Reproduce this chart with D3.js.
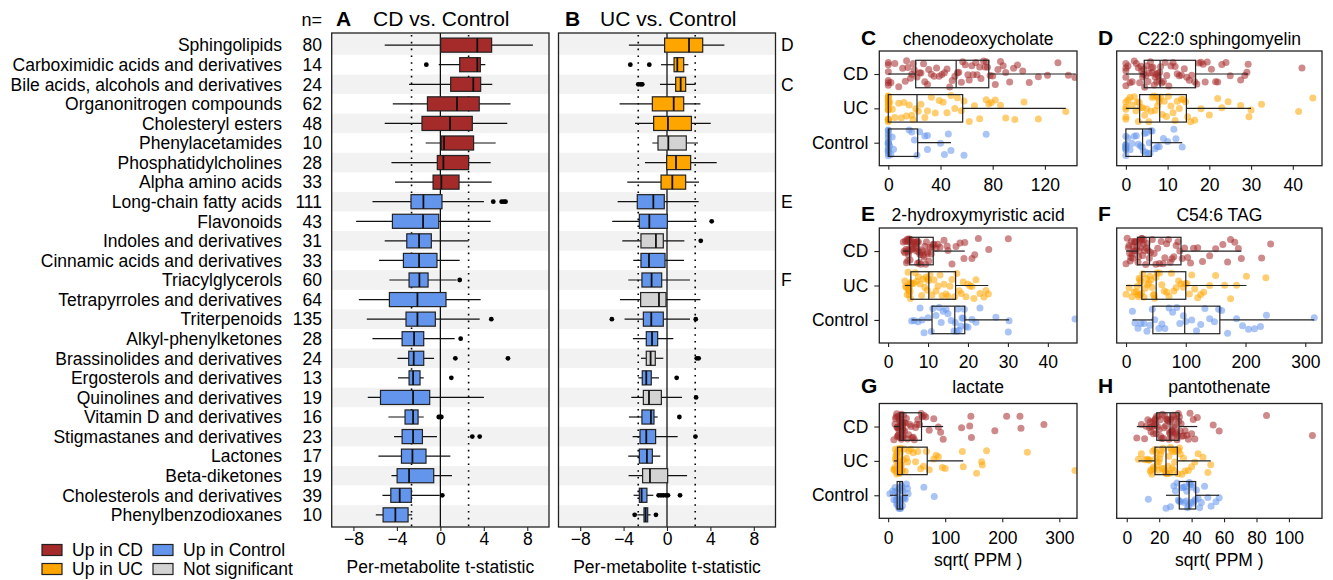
<!DOCTYPE html>
<html><head><meta charset="utf-8">
<script src="https://d3js.org/d3.v7.min.js"></script>
<style>html,body{margin:0;padding:0;background:#fff;}svg text{font-family:'Liberation Sans',Arial,Helvetica,sans-serif;fill:#000;}</style>
</head><body><svg id="chart"></svg>
<script>
// ================= DATA =================
const categories = ["Sphingolipids","Carboximidic acids and derivatives","Bile acids, alcohols and derivatives","Organonitrogen compounds","Cholesteryl esters","Phenylacetamides","Phosphatidylcholines","Alpha amino acids","Long-chain fatty acids","Flavonoids","Indoles and derivatives","Cinnamic acids and derivatives","Triacylglycerols","Tetrapyrroles and derivatives","Triterpenoids","Alkyl-phenylketones","Brassinolides and derivatives","Ergosterols and derivatives","Quinolines and derivatives","Vitamin D and derivatives","Stigmastanes and derivatives","Lactones","Beta-diketones","Cholesterols and derivatives","Phenylbenzodioxanes"];
const nCounts = [80,14,24,62,48,10,28,33,111,43,31,33,60,64,135,28,24,13,19,16,23,17,19,39,10];
const tTicks = [-8,-4,0,4,8];
const sigThresholds = [-2.65, 2.6];

// Panel A: CD vs. Control (whisker low, Q1, median, Q3, whisker high, outliers)
const aStatus = ["CD","CD","CD","CD","CD","CD","CD","CD","Control","Control","Control","Control","Control","Control","Control","Control","Control","Control","Control","Control","Control","Control","Control","Control","Control"];
const aLo  = [-5.12,-0.15,-2.88,-4.38,-5.12,-1.35,-4.5,-4.17,-6.25,-7.75,-5.12,-5.64,-4.69,-7.5,-6.77,-6.25,-3.95,-3.89,-6.68,-4.78,-4.26,-5.7,-4.5,-5.33,-5.94];
const aQ1  = [0.03,1.78,0.95,-1.19,-1.69,0.09,-0.28,-0.67,-2.7,-4.41,-3.09,-3.4,-2.88,-4.69,-3.16,-3.52,-2.91,-2.88,-5.51,-3.25,-3.52,-3.58,-3.98,-4.56,-5.27];
const aMed = [3.4,3.4,3.03,1.53,0.89,0.34,0.28,0.09,-1.56,-1.59,-1.96,-1.96,-1.93,-2.11,-2.11,-2.42,-2.45,-2.51,-2.51,-2.51,-2.51,-2.57,-2.88,-3.74,-4.14];
const aQ3  = [4.72,3.68,3.71,3.58,2.94,3.06,2.6,1.72,0.15,-0.15,-0.83,-0.31,-1.13,0.52,-0.46,-1.53,-1.53,-1.87,-0.98,-2.05,-1.65,-1.32,-0.61,-2.67,-2.97];
const aHi  = [8.52,4.14,4.78,6.46,6.16,5.09,4.63,4.72,4.01,4.63,2.6,1.78,1.5,3.71,3.62,1.32,-0.58,-1.53,4.01,-1.53,-0.31,0.92,1.07,-0.06,-2.6];
const aOut = [[],[-1.29],[],[],[],[],[],[],[4.87,5.64,5.85,6.0],[],[],[],[1.78],[],[4.69],[1.87],[1.38,6.22],[1.01],[],[-0.15,0,0.09],[2.94,3.62],[],[],[0.18],[]];

// Panel B: UC vs. Control
const bStatus = ["UC","UC","UC","UC","UC","NS","UC","UC","Control","Control","NS","Control","Control","NS","Control","Control","NS","Control","NS","Control","Control","Control","NS","Control","Control"];
const bLo  = [-3.51,-0.55,-0.65,-4.37,-2.95,-1.35,-2.03,-3.66,-4.55,-5.05,-4.12,-3.11,-3.57,-4.34,-3.91,-3.14,-2.4,-2.65,-3.29,-3.51,-3.17,-3.57,-3.54,-3.08,-2.74];
const bQ1  = [-0.22,0.65,0.8,-1.35,-1.23,-0.83,-0.03,-0.55,-2.74,-2.55,-2.4,-2.4,-2.31,-2.43,-2.18,-1.91,-1.91,-2.28,-2.18,-2.31,-2.49,-2.55,-2.25,-2.55,-2.12];
const bMed = [2.03,0.95,1.26,0.62,0.09,0.12,0.83,0.49,-1.26,-1.63,-1.02,-1.66,-1.42,-0.74,-1.45,-1.38,-1.51,-1.91,-1.66,-1.48,-1.91,-1.85,-1.57,-2.34,-1.97];
const bQ3  = [3.29,1.54,1.72,1.54,2.25,1.78,2.18,1.72,-0.25,0.03,-0.34,-0.18,-0.49,-0.09,-0.34,-0.86,-1.08,-1.45,-0.52,-1.2,-1.05,-1.35,0.06,-1.85,-1.78];
const bHi  = [5.29,1.97,2.62,3.08,4.03,2.86,4.58,2.95,2.92,2.74,1.6,1.57,2.12,3.08,2.12,0.58,-0.34,-0.74,1.38,-0.86,0.98,-0.62,1.85,-1.26,-1.51];
const bOut = [[],[-3.38,-1.63],[-2.65,-2.43,-2.28],[],[],[],[],[],[],[4.12],[3.11],[],[],[],[-5.08,2.65],[],[2.74,2.92],[0.89],[2.68],[1.14],[2.62],[],[],[-0.77,-0.55,-0.34,-0.09,0.09,1.2],[-2.98,-1.02]];
const bMarkers = [["D",0],["C",2],["E",8],["F",12]];

// Panels C-H: per-subject sqrt(PPM) values
const groups = ["CD","UC","Control"];
const chenoCD = [0,0,0,0,0,0,2,5,8,11,13,14,15,17,18,19,20,22,24,25,27,28,30,31,33,35,37,39,41,43,45,47,49,51,53,54,56,57,59,61,62,64,65,67,68,70,71,73,74,75,76,78,80,82,84,86,88,90,93,96,99,103,108,115,122,130,138,143];
const chenoUC = [0,0,0,0,0,0,0,0,0,0,0,0,0,0,0,1,3,5,8,10,12,14,16,18,19,21,23,25,28,30,33,36,39,42,45,48,51,53,56,58,62,66,70,75,77,79,82,86,90,97,104,115,136];
const chenoControl = [0,0,0,0,0,0,0,0,0,0,0,0,0,0,0,0,1,2,3,4,16,18,20,22,24,28,30,30,40,43,46,48,58,75];
const chenoBox = [[0,21,52,77,143.7],[0,0,22,57,136],[0,0,0.5,22.5,48]];
const chenoTicks = [0,40,80,120];

const smCD = [0,0,0,0,0,0.5,1,1.5,2,2.5,3,3.3,3.6,3.8,4,4.2,4.3,4.5,4.8,5,5.3,5.6,5.9,6.1,6.3,6.5,6.8,7,7.2,7.4,7.6,7.8,8,8.1,8.3,8.6,9,9.4,9.8,10.3,10.8,11.3,11.8,12.3,12.8,13.3,14,14.6,15.2,15.8,16.5,17,17.5,18,18.5,19,19.5,20.5,21.5,22,23,24,25,27.5,28.5,29,29.3,42.2];
const smUC = [0,0,0,0,0,0.5,1,1.5,2,2.4,2.8,3,3.2,3.5,4,4.5,5,5.5,6,6.3,6.6,7,7.3,7.6,7.9,8,8.3,8.7,9.2,9.7,10.2,10.8,11.3,11.8,12.3,12.8,13.3,13.8,14.3,14.8,15.5,16.5,18,20,22,23,24.5,27.5,29.5,30,32.5,41.4,44.8];
const smControl = [0,0,0,0,0,0,0,0,0,0.5,1,1.5,2,2.5,3,3.5,3.9,4.2,4.5,4.8,5,5.3,5.6,5.8,6,6.3,7,7.5,8,9,10,11.5,12,13.5];
const smBox = [[0,4.4,8.2,16.7,29.3],[0,3.3,8.1,14.5,30],[0,0,4,6.1,13.5]];
const smTicks = [0,10,20,30,40];

const hmCD = [3.8,4,4.2,4.3,4.5,4.6,4.7,4.8,4.9,5,5,5.1,5.2,5.2,5.3,5.3,5.4,5.5,5.6,5.8,6,6.1,6.3,6.5,6.7,6.8,7,7.1,7.2,7.3,7.4,7.5,7.6,7.7,7.8,8,8.2,8.4,8.6,8.8,9,9.2,9.4,9.6,9.8,10,10.2,10.5,10.8,11,11.2,11.5,12,12.5,13,14,14.8,15,16,17,18,19,19.2,21,21.7,22.6,25.2,30.1];
const hmUC = [4.2,4.4,4.6,4.8,5,5.1,5.2,5.3,5.4,5.5,5.5,5.6,5.7,6,6.4,6.8,7.2,7.6,8,8.4,8.8,9.2,9.5,9.8,10,10.1,10.5,11,11.5,12,12.5,13,13.5,14,14.5,15,15.5,16,16.7,17.2,17.8,18.3,18.8,19.5,20,20.5,21,21.5,22,23,24,24.5,25.1];
const hmControl = [5.9,6.5,7.5,8,8.5,9,10,10.8,11.2,12,12.8,13.3,13.8,14.5,15,15.8,16.5,16.8,17.2,17.5,17.8,18.2,18.5,18.8,19.1,19.5,20,21,22,23,27,30.1,30.3,46.8];
const hmBox = [[3.8,5.4,7.7,11.3,19.2],[4.2,5.7,10.2,16.9,25.1],[5.9,11,16.7,19.2,30.3]];
const hmTicks = [0,10,20,30,40];

const tagCD = [0,2,4,5,6,7,8,9,10,11,12,13,14,15,16,17,18,20,21,22,23,24,25,26,27,28,29,30,31,33,34,35,37,39,41,44,47,50,53,56,59,62,65,68,71,74,77,80,84,87,90,94,98,103,108,113,120,128,140,150,162,170,175,182,188,193,227,242];
const tagUC = [0,5,10,14,17,19,20,21,22,23,24,25,26,28,30,32,34,36,38,40,42,44,46,47,48,50,52,56,60,64,68,72,76,80,84,88,92,96,99,102,106,110,115,120,125,130,140,150,165,175,185,201.5,234];
const tagControl = [10.7,15,20,25,30,35,40,44,48,55,60,65,72,78,85,90,96,100,110,118,125,132,140,148,155,160,170,185,195,205,215,225,235,315];
const tagBox = [[0,19,39.3,92,193],[0,26.4,50.5,100,201.5],[10.7,44.9,98.2,157,315]];
const tagTicks = [0,100,200,300];

const lacCD = [10,12,13,14,15,15.5,16,16.5,17,17.5,18,18.5,19,19.5,19.8,20,20.3,21,21.5,22,22.3,22.6,23,23.3,23.6,24,24.3,24.6,25,25.3,25.6,25.9,26.1,26.3,27,28,29,30,32,34,36,38,40,42,44,46,48,50,52,55,58,60,63,66,72,80,88,92,96.5,128.7,143,145,146,187,207.7,231,232.8,273];
const lacUC = [10,11,12,12.5,13,13.5,14,14.5,15,15.3,15.6,16,16.2,17,18,19,19.5,20,20.5,21,21.5,22,22.5,23,23.5,24.3,26,28,30,32,34,36,40,44,48,52,57,62,67,72,80,84,88,95,100,130,131.6,155,163.8,165,172.5,244,327.5];
const lacControl = [3,8,10,12,13,14,15,15.5,16,16.5,17,17.5,18,18.5,19,19.5,20,21,21.5,22,22.5,23,23.5,24,25,26,27,28,30,32,34,35,62.6,80.8];
const lacBox = [[10,20.5,26.4,58.5,96.5],[10,16.4,24.6,68.5,131.6],[3,15.8,20.5,25.2,35]];
const lacTicks = [0,100,200,300];

const panCD = [6.2,9,11,12,13,14,14.5,15,15.5,16,16.5,17,17.3,17.6,17.9,18.1,18.4,19,19.5,20,20.5,21,21.5,22,22.5,23,23.5,24,24.5,25,25.5,26,26.3,26.6,26.8,27.1,27.4,27.7,28,28.3,28.6,29,29.3,29.6,30,30.3,30.6,31,31.4,31.8,32.1,32.5,33,33.5,34,35,36,37,38,39,40,41,42,43.5,53.3,57,86.2,114.5];
const panUC = [7.2,9,11,12.5,13.5,14,14.5,15,15.5,16,16.5,17,17.3,17.8,18.3,18.8,19.3,19.8,20.3,20.8,21.3,21.8,22.3,22.8,23.5,24,24.5,25,25.5,26,26.5,27,27.5,28,28.5,29,29.5,30,31,31.5,32,32.5,33,34,35,36,38,40,42,44,47,50,51.8];
const panControl = [13.3,24.2,27,29,30,31,31.8,32.3,33,34,35,35.5,36,36.5,37,37.5,38.2,38.6,39,39.5,40,40.5,41,41.5,42.3,43,44,45,46,48,50,52,55,57];
const panBox = [[6.2,18.5,26.7,32.2,43.5],[7.2,17.4,24.2,31.2,51.8],[24.2,32.4,38.4,42.5,57]];
const panTicks = [0,20,40,60,80,100];

// ================= STYLE / LAYOUT =================
const statusColors = {CD:"#A52A2A", UC:"#FFA500", Control:"#6495ED", NS:"#D3D3D3"};
const groupColors = ["#A52A2A","#FFA500","#6495ED"];
const FS = 17.5;
const W = 1333, H = 580;
const svg = d3.select("#chart").attr("width", W).attr("height", H);

const pTop = 33, pBot = 527;
const yRow = d3.scalePoint().domain(categories).range([pTop, pBot]).padding(0.62);
const step = yRow.step();

// row labels & counts
svg.append("g").selectAll("text").data(categories).join("text")
  .attr("x", 282).attr("y", d => yRow(d)).attr("dy", "0.36em")
  .attr("text-anchor", "end").attr("font-size", FS).text(d => d);
svg.append("g").selectAll("text").data(nCounts).join("text")
  .attr("x", 322).attr("y", (d, i) => yRow(categories[i])).attr("dy", "0.36em")
  .attr("text-anchor", "end").attr("font-size", FS).text(d => d);
svg.append("text").attr("x", 322).attr("y", 26).attr("text-anchor", "end").attr("font-size", FS + 0.5).text("n=");

function tPanel(x0, x1, letter, title, lo, q1, med, q3, hi, outs, status) {
  const x = d3.scaleLinear().domain([-10, 10]).range([x0, x1]);
  const g = svg.append("g");
  const last = categories.length - 1;
  g.selectAll("rect.stripe").data(categories.map((c, i) => i).filter(i => i % 2 === 0)).join("rect")
    .attr("x", x0).attr("width", x1 - x0)
    .attr("y", i => i === 0 ? pTop : yRow(categories[i]) - step / 2)
    .attr("height", i => (i === last ? pBot : yRow(categories[i]) + step / 2) - (i === 0 ? pTop : yRow(categories[i]) - step / 2))
    .attr("fill", "#F2F2F2");
  g.append("line").attr("x1", x(0)).attr("x2", x(0)).attr("y1", pTop).attr("y2", pBot)
    .attr("stroke", "#000").attr("stroke-width", 1.2);
  g.selectAll("line.thr").data(sigThresholds).join("line")
    .attr("x1", d => x(d)).attr("x2", d => x(d)).attr("y1", pTop + 2).attr("y2", pBot)
    .attr("stroke", "#000").attr("stroke-width", 1.6).attr("stroke-dasharray", "1.6,5.2");
  const idx = categories.map((c, i) => i);
  const bh = step * 0.72;
  g.selectAll("line.wh").data(idx).join("line")
    .attr("x1", i => x(lo[i])).attr("x2", i => x(hi[i]))
    .attr("y1", i => yRow(categories[i])).attr("y2", i => yRow(categories[i]))
    .attr("stroke", "#111").attr("stroke-width", 1.2);
  g.selectAll("rect.box").data(idx).join("rect")
    .attr("x", i => x(q1[i])).attr("width", i => x(q3[i]) - x(q1[i]))
    .attr("y", i => yRow(categories[i]) - bh / 2).attr("height", bh)
    .attr("fill", i => statusColors[status[i]]).attr("stroke", "#222").attr("stroke-width", 1.2);
  g.selectAll("line.med").data(idx).join("line")
    .attr("x1", i => x(med[i])).attr("x2", i => x(med[i]))
    .attr("y1", i => yRow(categories[i]) - bh / 2).attr("y2", i => yRow(categories[i]) + bh / 2)
    .attr("stroke", "#111").attr("stroke-width", 1.8);
  const outPts = [];
  outs.forEach((arr, i) => arr.forEach(v => outPts.push([i, v])));
  g.selectAll("circle.out").data(outPts).join("circle")
    .attr("cx", d => x(d[1])).attr("cy", d => yRow(categories[d[0]])).attr("r", 2.4).attr("fill", "#000");
  g.append("rect").attr("x", x0).attr("y", pTop).attr("width", x1 - x0).attr("height", pBot - pTop)
    .attr("fill", "none").attr("stroke", "#222").attr("stroke-width", 1.3);
  const ax = g.append("g").attr("transform", `translate(0,${pBot})`)
    .call(d3.axisBottom(x).tickValues(tTicks).tickSize(4).tickPadding(2));
  ax.select(".domain").remove();
  ax.selectAll("line").attr("stroke", "#222").attr("stroke-width", 1.1);
  ax.selectAll("text").attr("font-size", FS).attr("font-family", null).attr("fill", "#000");
  g.append("text").attr("x", (x0 + x1) / 2).attr("y", 573).attr("text-anchor", "middle").attr("font-size", FS).text("Per-metabolite t-statistic");
  return x;
}

tPanel(331.7, 549, "A", "CD vs. Control", aLo, aQ1, aMed, aQ3, aHi, aOut, aStatus);
const xB = tPanel(558.5, 775.5, "B", "UC vs. Control", bLo, bQ1, bMed, bQ3, bHi, bOut, bStatus);

svg.append("text").attr("x", 336).attr("y", 26).attr("font-size", 21).attr("font-weight", "bold").text("A");
svg.append("text").attr("x", 373).attr("y", 26).attr("font-size", 21).text("CD vs. Control");
svg.append("text").attr("x", 565).attr("y", 26).attr("font-size", 21).attr("font-weight", "bold").text("B");
svg.append("text").attr("x", 600).attr("y", 26).attr("font-size", 21).text("UC vs. Control");
svg.append("g").selectAll("text").data(bMarkers).join("text")
  .attr("x", 781).attr("y", d => yRow(categories[d[1]])).attr("dy", "0.36em").attr("font-size", FS).text(d => d[0]);

// legend
const legendItems = [["Up in CD","CD",42,550],["Up in Control","Control",153,550],["Up in UC","UC",42,569],["Not significant","NS",153,569]];
const lg = svg.append("g");
lg.selectAll("rect").data(legendItems).join("rect")
  .attr("x", d => d[2]).attr("y", d => d[3] - 5.5).attr("width", 20).attr("height", 11)
  .attr("fill", d => statusColors[d[1]]).attr("stroke", "#222").attr("stroke-width", 1.2);
lg.selectAll("text").data(legendItems).join("text")
  .attr("x", d => d[2] + 30).attr("y", d => d[3]).attr("dy", "0.36em").attr("font-size", FS).text(d => d[0]);

// ================= PANELS C-H =================
const colX = [[879.3, 1077], [1116.7, 1322]];
const rowY = [[51, 165.7], [228, 343], [403.5, 518.3]];
const titleBase = [45, 221, 393];
const letterX = [861, 1098];
const panels = [
  {letter:"C", title:"chenodeoxycholate", vals:[chenoCD, chenoUC, chenoControl], box:chenoBox, ticks:chenoTicks, dom:[-6.9,144.6], col:0, row:0},
  {letter:"D", title:"C22:0 sphingomyelin", vals:[smCD, smUC, smControl], box:smBox, ticks:smTicks, dom:[-2.2,47], col:1, row:0},
  {letter:"E", title:"2-hydroxymyristic acid", vals:[hmCD, hmUC, hmControl], box:hmBox, ticks:hmTicks, dom:[-2.2,47.3], col:0, row:1},
  {letter:"F", title:"C54:6 TAG", vals:[tagCD, tagUC, tagControl], box:tagBox, ticks:tagTicks, dom:[-15.6,328], col:1, row:1},
  {letter:"G", title:"lactate", vals:[lacCD, lacUC, lacControl], box:lacBox, ticks:lacTicks, dom:[-15.5,331], col:0, row:2},
  {letter:"H", title:"pantothenate", vals:[panCD, panUC, panControl], box:panBox, ticks:panTicks, dom:[-6.2,120.4], col:1, row:2}
];
function jit(i, s) { const v = Math.sin(i * 78.233 + s * 12.9898) * 43758.5453; return v - Math.floor(v) - 0.5; }

panels.forEach((p, pi) => {
  const [x0, x1] = colX[p.col], [y0, y1] = rowY[p.row];
  const x = d3.scaleLinear().domain(p.dom).range([x0, x1]);
  const y = d3.scalePoint().domain(groups).range([y0, y1]).padding(0.67);
  const st = y.step();
  const g = svg.append("g");
  const cid = "clip" + p.letter;
  g.append("clipPath").attr("id", cid).append("rect").attr("x", x0).attr("y", y0).attr("width", x1 - x0).attr("height", y1 - y0);
  const pg = g.append("g").attr("clip-path", `url(#${cid})`);
  groups.forEach((grp, k) => {
    pg.append("g").selectAll("circle").data(p.vals[k]).join("circle")
      .attr("cx", d => x(d)).attr("cy", (d, i) => y(grp) + jit(i, k + 3 * pi + 1) * 0.78 * st)
      .attr("r", 3.5).attr("fill", groupColors[k]).attr("fill-opacity", 0.55);
  });
  const bh = st * 0.8;
  groups.forEach((grp, k) => {
    const [lo, q1, med, q3, hi] = p.box[k];
    const cy = y(grp);
    const bg = g.append("g").attr("stroke", "#222").attr("fill", "none").attr("stroke-width", 1.2);
    bg.append("line").attr("x1", x(lo)).attr("x2", x(q1)).attr("y1", cy).attr("y2", cy);
    bg.append("line").attr("x1", x(q3)).attr("x2", x(hi)).attr("y1", cy).attr("y2", cy);
    bg.append("rect").attr("x", x(q1)).attr("width", x(q3) - x(q1)).attr("y", cy - bh / 2).attr("height", bh);
    bg.append("line").attr("x1", x(med)).attr("x2", x(med)).attr("y1", cy - bh / 2).attr("y2", cy + bh / 2);
  });
  g.append("rect").attr("x", x0).attr("y", y0).attr("width", x1 - x0).attr("height", y1 - y0)
    .attr("fill", "none").attr("stroke", "#222").attr("stroke-width", 1.3);
  const ax = g.append("g").attr("transform", `translate(0,${y1})`)
    .call(d3.axisBottom(x).tickValues(p.ticks).tickSize(4).tickPadding(9));
  ax.select(".domain").remove();
  ax.selectAll("line").attr("stroke", "#222").attr("stroke-width", 1.1);
  ax.selectAll("text").attr("font-size", FS).attr("font-family", null).attr("fill", "#000");
  if (p.col === 0) {
    const ay = g.append("g").attr("transform", `translate(${x0},0)`)
      .call(d3.axisLeft(y).tickSize(5).tickPadding(6));
    ay.select(".domain").remove();
    ay.selectAll("line").attr("stroke", "#222").attr("stroke-width", 1.1);
    ay.selectAll("text").attr("font-size", FS).attr("font-family", null).attr("fill", "#000");
  }
  g.append("text").attr("x", letterX[p.col]).attr("y", titleBase[p.row]).attr("font-size", 21).attr("font-weight", "bold").text(p.letter);
  g.append("text").attr("x", (x0 + x1) / 2).attr("y", titleBase[p.row]).attr("text-anchor", "middle").attr("font-size", FS).text(p.title);
  if (p.row === 2) {
    g.append("text").attr("x", (x0 + x1) / 2).attr("y", 566).attr("text-anchor", "middle").attr("font-size", FS).text("sqrt( PPM )");
  }
});
</script></body></html>
